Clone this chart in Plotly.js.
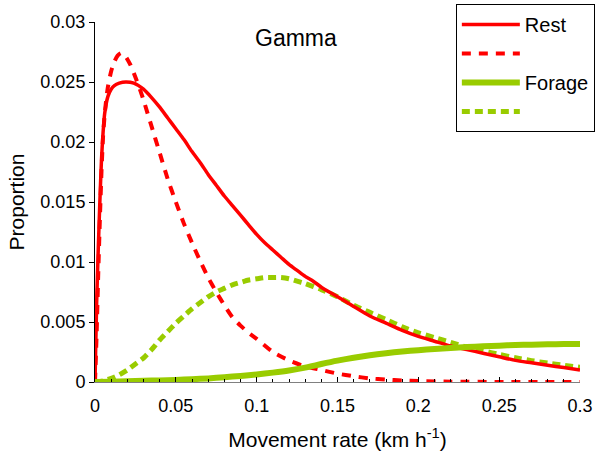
<!DOCTYPE html>
<html>
<head>
<meta charset="utf-8">
<script src="https://cdn.plot.ly/plotly-3.0.1.min.js"></script>
<style>html,body{margin:0;padding:0;background:#fff;}#chart{width:595px;height:463px;}</style>
</head>
<body>
<div id="chart"></div>
<script>
// Rest (solid) curve
var restSolidX = [0, 0.001, 0.002, 0.003, 0.004, 0.005, 0.006, 0.008, 0.010, 0.012, 0.015, 0.019, 0.024, 0.030, 0.035, 0.040, 0.045, 0.050, 0.055, 0.060, 0.065, 0.070, 0.075, 0.080, 0.085, 0.090, 0.095, 0.100, 0.105, 0.110, 0.115, 0.120, 0.125, 0.130, 0.135, 0.140, 0.150, 0.160, 0.170, 0.180, 0.190, 0.200, 0.210, 0.220, 0.230, 0.240, 0.250, 0.260, 0.270, 0.280, 0.290, 0.300];
var restSolidY = [0, 0.0065, 0.0110, 0.0150, 0.0185, 0.0208, 0.0224, 0.0238, 0.0244, 0.0247, 0.0249, 0.0250, 0.0249, 0.0244, 0.0237, 0.0229, 0.0220, 0.0211, 0.0202, 0.0192, 0.0183, 0.0173, 0.0164, 0.0155, 0.0147, 0.0139, 0.0131, 0.0123, 0.0116, 0.0110, 0.0104, 0.0098, 0.0093, 0.0088, 0.0084, 0.0079, 0.0071, 0.0063, 0.0055, 0.0049, 0.0043, 0.0038, 0.0034, 0.0030, 0.0027, 0.0024, 0.0021, 0.0018, 0.0016, 0.0014, 0.0012, 0.0010];

// Rest (dashed) curve
var restDashX = [0, 0.001, 0.002, 0.003, 0.004, 0.005, 0.006, 0.007, 0.008, 0.010, 0.012, 0.014, 0.016, 0.018, 0.020, 0.022, 0.025, 0.028, 0.030, 0.035, 0.040, 0.045, 0.050, 0.055, 0.060, 0.065, 0.070, 0.075, 0.080, 0.085, 0.090, 0.095, 0.100, 0.110, 0.120, 0.130, 0.140, 0.150, 0.160, 0.170, 0.180, 0.190, 0.200, 0.220, 0.250, 0.300];
var restDashY = [0, 0.004, 0.009, 0.0135, 0.0175, 0.0205, 0.0223, 0.0236, 0.0246, 0.0259, 0.0267, 0.0272, 0.0274, 0.0273, 0.0269, 0.0264, 0.0254, 0.0243, 0.0235, 0.0213, 0.0191, 0.0169, 0.0150, 0.0132, 0.0116, 0.0101, 0.0087, 0.0075, 0.0064, 0.0054, 0.0047, 0.0041, 0.0036, 0.0025, 0.0018, 0.0013, 0.0010, 0.0007, 0.00048, 0.0003, 0.0002, 0.00013, 0.00008, 0.00003, 0.0, 0.0];

// Forage (solid) curve
var forageSolidX = [0, 0.01, 0.02, 0.03, 0.04, 0.05, 0.06, 0.07, 0.08, 0.09, 0.10, 0.11, 0.12, 0.13, 0.14, 0.15, 0.16, 0.17, 0.18, 0.19, 0.20, 0.21, 0.22, 0.23, 0.24, 0.25, 0.26, 0.27, 0.28, 0.29, 0.30];
var forageSolidY = [0, 0.00003, 0.00006, 0.0001, 0.00013, 0.00017, 0.00023, 0.0003, 0.0004, 0.0005, 0.00063, 0.00078, 0.00096, 0.0012, 0.0015, 0.00178, 0.00202, 0.00223, 0.0024, 0.00254, 0.00265, 0.00275, 0.00284, 0.00291, 0.00297, 0.00303, 0.00308, 0.00311, 0.00314, 0.00316, 0.00317];

// Forage (dashed) curve
var forageDashX = [0, 0.005, 0.01, 0.015, 0.02, 0.025, 0.03, 0.035, 0.04, 0.045, 0.05, 0.055, 0.06, 0.065, 0.07, 0.075, 0.08, 0.085, 0.09, 0.095, 0.10, 0.105, 0.11, 0.115, 0.12, 0.125, 0.13, 0.14, 0.15, 0.16, 0.17, 0.18, 0.19, 0.20, 0.21, 0.22, 0.23, 0.24, 0.25, 0.26, 0.27, 0.28, 0.29, 0.30];
var forageDashY = [0, 0.0001, 0.0003, 0.0006, 0.001, 0.0015, 0.002, 0.0027, 0.0035, 0.0042, 0.0049, 0.0055, 0.0061, 0.0066, 0.0071, 0.0075, 0.0078, 0.0081, 0.0083, 0.0085, 0.0086, 0.0087, 0.0087, 0.0087, 0.0086, 0.0084, 0.0082, 0.0077, 0.0071, 0.0064, 0.0058, 0.0052, 0.0046, 0.0041, 0.0037, 0.0033, 0.0029, 0.0026, 0.0023, 0.00202, 0.00178, 0.00158, 0.0014, 0.00122];

var seriesNames = ["Rest", "", "Forage", ""];
var chartTitle = "Gamma";

var RED = "#FF0000", GREEN = "#99CC00";
var FONT = "Liberation Sans, Arial, sans-serif";

var traces = [
  {x: forageDashX, y: forageDashY, name: seriesNames[3], legendrank: 4, legendgroup: "d",
   mode: "lines", line: {color: GREEN, width: 5, dash: "8px,5px", shape: "spline", smoothing: 0.6}},
  {x: restDashX, y: restDashY, name: seriesNames[1], legendrank: 2, legendgroup: "b",
   mode: "lines", line: {color: RED, width: 4, dash: "9px,8px", shape: "spline", smoothing: 0.6}},
  {x: restSolidX, y: restSolidY, name: seriesNames[0], legendrank: 1, legendgroup: "a",
   mode: "lines", line: {color: RED, width: 3.5, shape: "spline", smoothing: 0.6}},
  {x: forageSolidX, y: forageSolidY, name: seriesNames[2], legendrank: 3, legendgroup: "c",
   mode: "lines", line: {color: GREEN, width: 6, shape: "spline", smoothing: 0.6}}
];

var layout = {
  width: 595, height: 463,
  margin: {l: 95, r: 15, t: 22, b: 81, autoexpand: false},
  paper_bgcolor: "#fff", plot_bgcolor: "#fff",
  font: {family: FONT, color: "#000", size: 18},
  showlegend: true,
  legend: {
    x: 0.744, y: 1.05, xanchor: "left", yanchor: "top",
    bordercolor: "#000", borderwidth: 1, bgcolor: "#fff",
    font: {family: FONT, size: 20, color: "#000"},
    tracegroupgap: 1, itemwidth: 58, traceorder: "normal"
  },
  hovermode: false,
  xaxis: {
    range: [0, 0.3], dtick: 0.05, tick0: 0,
    showgrid: false, zeroline: false,
    showline: true, linecolor: "#808080", linewidth: 1,
    ticks: "inside", ticklen: 5, tickcolor: "#000",
    minor: {ticks: "inside", dtick: 0.01, ticklen: 3, tickcolor: "#000", showgrid: false},
    tickfont: {family: FONT, size: 18},
    ticklabelstandoff: 7,
    title: {text: "Movement rate (km h<sup>-1</sup>)", font: {family: FONT, size: 21}, standoff: 17}
  },
  yaxis: {
    range: [0, 0.03], dtick: 0.005, tick0: 0,
    showgrid: false, zeroline: false,
    showline: true, linecolor: "#000", linewidth: 1,
    ticks: "outside", ticklen: 5, tickcolor: "#000",
    tickfont: {family: FONT, size: 18},
    title: {text: "Proportion", font: {family: FONT, size: 21}, standoff: 10}
  },
  annotations: [{
    text: chartTitle, xref: "paper", yref: "paper", x: 0.414, y: 0.956,
    xanchor: "center", yanchor: "middle",
    showarrow: false, font: {family: FONT, size: 23, color: "#000"}
  }]
};

Plotly.newPlot("chart", traces, layout, {staticPlot: true, displayModeBar: false});
</script>
</body>
</html>
